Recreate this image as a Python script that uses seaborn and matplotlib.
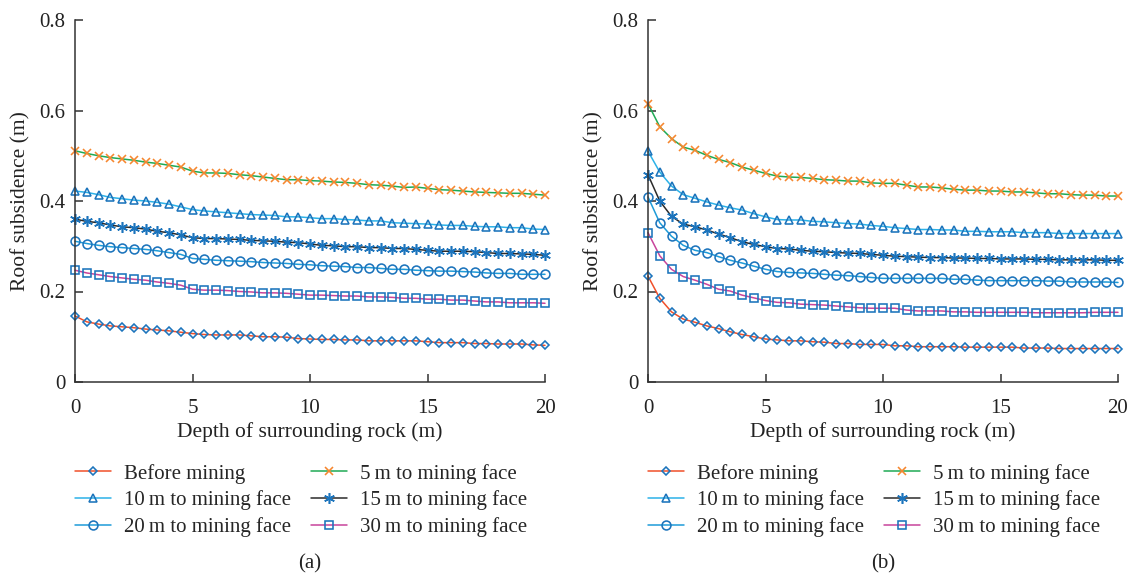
import numpy as np
import pandas as pd
import matplotlib
matplotlib.use("Agg")
import matplotlib.pyplot as plt
import seaborn as sns

# Depth into the surrounding rock (m), sampled every 0.5 m
depth = np.linspace(0, 20, 41)

# Panel (a): roof subsidence (m)
a_before = [0.146, 0.133, 0.128, 0.124, 0.122, 0.120, 0.117, 0.115, 0.113, 0.110, 0.107,
            0.105, 0.104, 0.104, 0.104, 0.102, 0.100, 0.100, 0.099, 0.096, 0.095,
            0.094, 0.094, 0.093, 0.093, 0.091, 0.091, 0.091, 0.091, 0.091, 0.089,
            0.087, 0.087, 0.087, 0.085, 0.085, 0.084, 0.084, 0.084, 0.082, 0.081]
a_5m = [0.511, 0.505, 0.500, 0.496, 0.493, 0.490, 0.486, 0.483, 0.479, 0.475, 0.466,
        0.462, 0.462, 0.461, 0.458, 0.456, 0.453, 0.450, 0.447, 0.447, 0.445,
        0.444, 0.442, 0.441, 0.439, 0.436, 0.435, 0.433, 0.430, 0.431, 0.428,
        0.425, 0.424, 0.422, 0.420, 0.419, 0.418, 0.417, 0.417, 0.415, 0.413]
a_10m = [0.422, 0.419, 0.414, 0.408, 0.405, 0.402, 0.400, 0.397, 0.393, 0.387, 0.381,
         0.378, 0.376, 0.374, 0.372, 0.370, 0.369, 0.368, 0.365, 0.365, 0.363,
         0.361, 0.361, 0.359, 0.358, 0.356, 0.356, 0.352, 0.351, 0.350, 0.349,
         0.347, 0.346, 0.346, 0.344, 0.343, 0.343, 0.341, 0.341, 0.338, 0.337]
a_15m = [0.360, 0.355, 0.352, 0.347, 0.343, 0.341, 0.338, 0.333, 0.330, 0.325, 0.319,
         0.317, 0.317, 0.316, 0.315, 0.313, 0.312, 0.311, 0.309, 0.308, 0.305,
         0.302, 0.301, 0.299, 0.299, 0.297, 0.297, 0.295, 0.295, 0.293, 0.291,
         0.289, 0.289, 0.289, 0.288, 0.286, 0.284, 0.284, 0.283, 0.282, 0.280]
a_20m = [0.311, 0.306, 0.302, 0.299, 0.297, 0.295, 0.293, 0.290, 0.286, 0.282, 0.273,
         0.271, 0.269, 0.268, 0.267, 0.266, 0.264, 0.263, 0.262, 0.260, 0.259,
         0.257, 0.256, 0.255, 0.253, 0.253, 0.251, 0.249, 0.249, 0.247, 0.246,
         0.245, 0.245, 0.244, 0.243, 0.241, 0.240, 0.240, 0.238, 0.238, 0.238]
a_30m = [0.247, 0.241, 0.237, 0.233, 0.230, 0.227, 0.225, 0.221, 0.218, 0.214, 0.205,
         0.203, 0.203, 0.202, 0.200, 0.199, 0.197, 0.197, 0.196, 0.194, 0.192,
         0.192, 0.191, 0.190, 0.190, 0.188, 0.188, 0.187, 0.185, 0.185, 0.183,
         0.183, 0.181, 0.181, 0.179, 0.177, 0.177, 0.175, 0.175, 0.175, 0.174]

# Panel (b): roof subsidence (m)
b_before = [0.234, 0.185, 0.155, 0.139, 0.132, 0.124, 0.118, 0.111, 0.105, 0.100, 0.095,
            0.093, 0.091, 0.091, 0.089, 0.088, 0.085, 0.085, 0.083, 0.083, 0.083,
            0.080, 0.080, 0.078, 0.078, 0.078, 0.078, 0.077, 0.077, 0.077, 0.077,
            0.077, 0.075, 0.075, 0.075, 0.074, 0.074, 0.074, 0.074, 0.074, 0.074]
b_5m = [0.615, 0.564, 0.538, 0.519, 0.512, 0.501, 0.492, 0.485, 0.475, 0.468, 0.461,
        0.455, 0.453, 0.452, 0.450, 0.447, 0.446, 0.444, 0.444, 0.440, 0.439,
        0.439, 0.435, 0.431, 0.431, 0.429, 0.426, 0.424, 0.424, 0.422, 0.422,
        0.420, 0.420, 0.418, 0.416, 0.416, 0.414, 0.413, 0.413, 0.411, 0.411]
b_10m = [0.510, 0.464, 0.433, 0.414, 0.406, 0.398, 0.391, 0.385, 0.380, 0.372, 0.365,
         0.359, 0.358, 0.358, 0.355, 0.354, 0.352, 0.350, 0.349, 0.346, 0.344,
         0.341, 0.339, 0.337, 0.337, 0.336, 0.336, 0.333, 0.333, 0.332, 0.332,
         0.332, 0.330, 0.330, 0.330, 0.328, 0.328, 0.328, 0.328, 0.328, 0.328]
b_15m = [0.458, 0.400, 0.366, 0.349, 0.343, 0.336, 0.327, 0.319, 0.310, 0.304, 0.299,
         0.295, 0.294, 0.291, 0.289, 0.288, 0.286, 0.285, 0.284, 0.282, 0.280,
         0.278, 0.277, 0.276, 0.275, 0.275, 0.274, 0.274, 0.273, 0.273, 0.272,
         0.272, 0.272, 0.271, 0.271, 0.270, 0.270, 0.270, 0.270, 0.269, 0.269]
b_20m = [0.409, 0.352, 0.322, 0.302, 0.291, 0.286, 0.277, 0.269, 0.263, 0.256, 0.249,
         0.244, 0.242, 0.241, 0.240, 0.238, 0.236, 0.235, 0.233, 0.231, 0.229,
         0.229, 0.229, 0.229, 0.229, 0.229, 0.227, 0.227, 0.225, 0.224, 0.224,
         0.224, 0.224, 0.224, 0.223, 0.223, 0.221, 0.221, 0.221, 0.221, 0.220]
b_30m = [0.330, 0.279, 0.249, 0.233, 0.225, 0.216, 0.205, 0.201, 0.192, 0.186, 0.180,
         0.176, 0.175, 0.172, 0.171, 0.170, 0.168, 0.166, 0.164, 0.163, 0.163,
         0.163, 0.159, 0.157, 0.157, 0.157, 0.155, 0.155, 0.154, 0.154, 0.154,
         0.154, 0.154, 0.153, 0.153, 0.153, 0.153, 0.153, 0.154, 0.154, 0.154]

labels = ["Before mining", "5\u2009m to mining face", "10\u2009m to mining face",
          "15\u2009m to mining face", "20\u2009m to mining face", "30\u2009m to mining face"]
panel_a = [a_before, a_5m, a_10m, a_15m, a_20m, a_30m]
panel_b = [b_before, b_5m, b_10m, b_15m, b_20m, b_30m]

# Line colour, marker, marker colour and marker size per series
MB = "#1C74BC"
styles = [
    dict(color="#F0502A", marker="D", mec=MB, ms=4.4),
    dict(color="#1FAA55", marker="x", mec="#F6872F", ms=6.4),
    dict(color="#2CB2E8", marker="^", mec=MB, ms=6.4),
    dict(color="#2B2B2B", marker=(6, 2, 0), mec=MB, ms=7.8),
    dict(color="#1E9BD8", marker="o", mec=MB, ms=6.4),
    dict(color="#C8449B", marker="s", mec=MB, ms=5.8),
]

sns.set_style("ticks")
plt.rcParams["font.family"] = ["Liberation Serif", "DejaVu Serif"]
plt.rcParams["axes.edgecolor"] = "#333333"
plt.rcParams["axes.linewidth"] = 1.1

fig = plt.figure(figsize=(11.33, 5.76), dpi=100)
ax_a = fig.add_axes([75 / 1133, 1 - 382 / 576, 470 / 1133, 362 / 576])
ax_b = fig.add_axes([648 / 1133, 1 - 382 / 576, 470 / 1133, 362 / 576])

TXT = "#222222"
for ax, series, tag in [(ax_a, panel_a, "(a)"), (ax_b, panel_b, "(b)")]:
    handles = []
    for vals, lab, st in zip(series, labels, styles):
        df = pd.DataFrame({"depth": depth, "subsidence": vals})
        sns.lineplot(data=df, x="depth", y="subsidence", ax=ax, color=st["color"],
                     linewidth=1.1, marker=st["marker"], markersize=st["ms"],
                     markeredgecolor=st["mec"], markerfacecolor="none",
                     markeredgewidth=1.15, label=lab, legend=False)
        handles.append(ax.get_lines()[-1])
    ax.set_xlim(0, 20)
    ax.set_ylim(0, 0.8)
    ax.set_xticks([0, 5, 10, 15, 20])
    ax.set_yticks([0, 0.2, 0.4, 0.6, 0.8])
    ax.set_yticklabels(["0", "0.2", "0.4", "0.6", "0.8"])
    ax.tick_params(direction="in", length=6, width=1.1, labelsize=15,
                   colors="#333333", labelcolor=TXT)
    ax.tick_params(axis="x", pad=12)
    ax.tick_params(axis="y", pad=7)
    ax.set_xlabel("Depth of surrounding rock (m)", fontsize=15.5, labelpad=3, color=TXT)
    ax.set_ylabel("Roof subsidence (m)", fontsize=15.5, labelpad=6, color=TXT)
    sns.despine(ax=ax)
    for line in handles:
        line.set_clip_on(False)
    order = [0, 2, 4, 1, 3, 5]
    ax.legend([handles[i] for i in order], [labels[i] for i in order],
              ncol=2, loc="upper left", bbox_to_anchor=(0.0, -0.226),
              frameon=False, fontsize=15, handlelength=1.75, handletextpad=0.6,
              columnspacing=0.95, labelspacing=0.33, borderpad=0, borderaxespad=0)
    ax.text(0.5, -0.502, tag, transform=ax.transAxes, ha="center", va="center",
            fontsize=15, color=TXT)

fig.savefig("out.png", dpi=100)
